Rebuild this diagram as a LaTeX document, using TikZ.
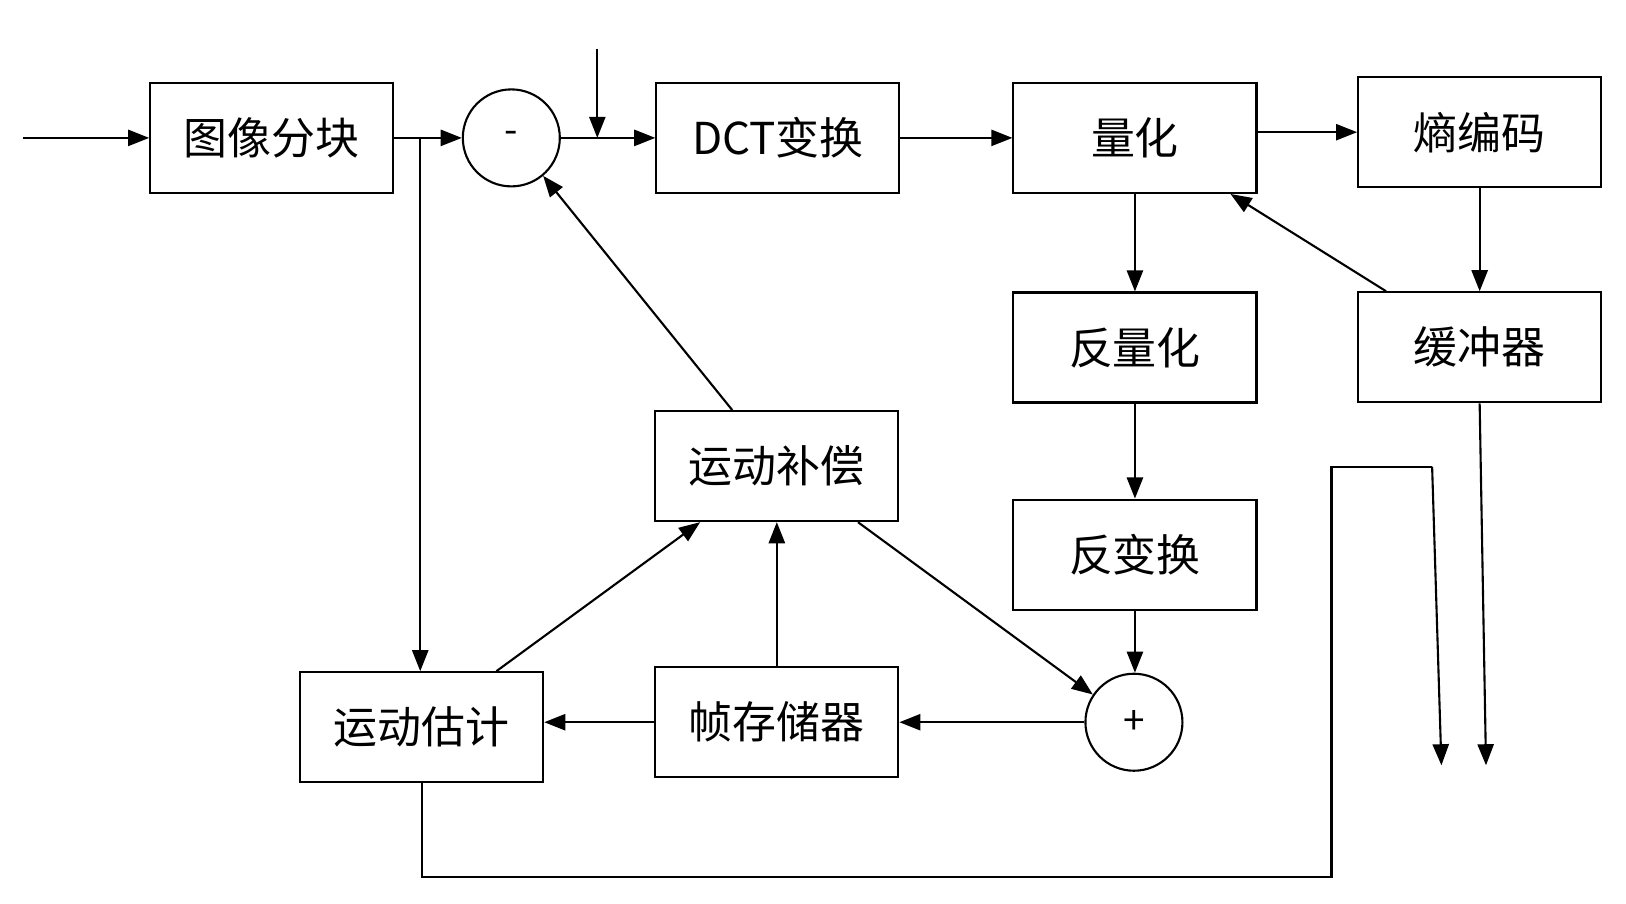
\documentclass[tikz,border=0pt]{standalone}
\usepackage{fontspec}
\newfontfamily\cjk{Noto Sans CJK SC}
\usetikzlibrary{positioning,arrows.meta,calc}
\tikzstyle{blk}=[rectangle, draw, line width=0.6pt, minimum width=2.43cm, minimum height=1.1cm, inner sep=0pt, text centered, font=\cjk\fontsize{12.5}{15}\selectfont]
\tikzstyle{sumnode}=[circle, draw, line width=0.6pt, minimum size=0.97cm, inner sep=0pt, font=\cjk\fontsize{11}{12}\selectfont]
\tikzstyle{flow}=[-{Triangle[length=6pt,width=4.6pt]}, line width=0.6pt]
\tikzstyle{plain}=[-, line width=0.6pt]

\begin{document}
\begin{tikzpicture}[node distance=0mm]
    \useasboundingbox (0,0) rectangle (16.26,-9.04);

    \node (split) [blk] at (2.717,-1.379) {图像分块};
    \node (minus) [sumnode, right=0.675cm of split] {-};
    \node (dct) [blk, right=0.944cm of minus] {DCT变换};
    \node (quant) [blk, right=1.12cm of dct] {量化};
    \node (entropy) [blk, right=0.996cm of quant, yshift=0.057cm] {熵编码};
    \node (buffer) [blk, below=1.03cm of entropy] {缓冲器};
    \node (iquant) [blk, below=0.975cm of quant] {反量化};
    \node (idct) [blk, below=0.95cm of iquant] {反变换};
    \node (plus) [sumnode, below=0.62cm of idct, xshift=-0.01cm] {+};
    \node (frame) [blk, left=1.85cm of plus] {帧存储器};
    \node (mc) [blk, above=1.44cm of frame] {运动补偿};
    \node (me) [blk, left=1.1cm of frame, yshift=-0.05cm] {运动估计};

    % free ends
    \coordinate (in) at (0.228,-1.379);
    \coordinate (qin) at (5.973,-0.487);
    \coordinate (br) at ($(split.east)+(0.26,0)$);
    \coordinate (mvdown) at (4.21,-8.773);
    \coordinate (mvright) at (13.315,-8.773);
    \coordinate (mvup) at (13.315,-4.667);
    \coordinate (mvtop) at (14.321,-4.667);
    \coordinate (mvout) at (14.414,-7.653);
    \coordinate (bufout) at (14.86,-7.653);

% forward path
    \draw[flow] (in) -- (split.west);
    \draw[flow] (split.east) -- (minus.west);
    \draw[flow] (br) -- (br |- me.north);
    \draw[flow] (minus.east) -- (dct.west);
    \draw[flow] (qin) -- (qin |- minus.east);
    \draw[flow] (dct.east) -- (quant.west);
    \draw[flow] (quant.east |- entropy.west) -- (entropy.west);
    \draw[flow] (entropy.south) -- (buffer.north);
    \draw[flow] ($(buffer.north west)+(0.29,0)$) -- ($(quant.south east)+(-0.27,0)$);
    \draw[flow] (buffer.south) -- (bufout);

% reconstruction loop
    \draw[flow] (quant.south) -- (iquant.north);
    \draw[flow] (iquant.south) -- (idct.north);
    \draw[flow] (idct.south) -- (idct.south |- plus.north);
    \draw[flow] (plus.west) -- (frame.east);
    \draw[flow] (frame.west) -- (frame.west -| me.east);
    \draw[flow] (frame.north) -- (mc.south);
    \draw[flow] ($(me.north)+(0.747,0)$) -- ($(mc.south)+(-0.767,0)$);
    \draw[flow] ($(mc.south east)+(-0.414,0)$) -- (plus.146);
    \draw[flow] ($(mc.north)+(-0.446,0)$) -- (minus.-50);

% motion vectors
    \draw[plain] (me.south) -- (me.south |- mvdown) -- (mvright) -- (mvup) -- (mvtop);
    \draw[flow] (mvtop) -- (mvout);

\end{tikzpicture}
\end{document}
